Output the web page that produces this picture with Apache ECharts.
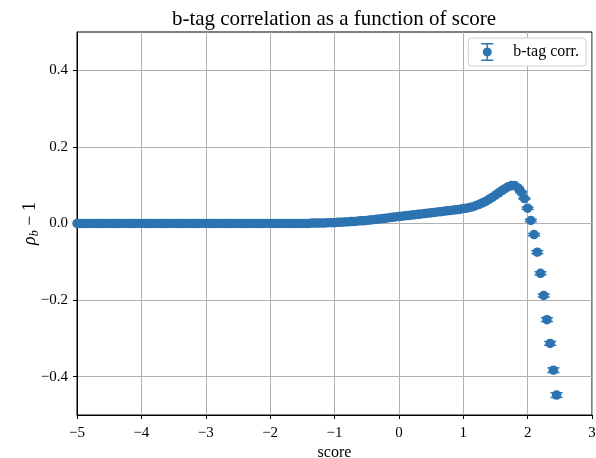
<!DOCTYPE html>
<html>
<head>
<meta charset="utf-8">
<script src="https://cdn.jsdelivr.net/npm/echarts@6/dist/echarts.min.js"></script>
<style>
  html, body { margin: 0; padding: 0; background: #fff; }
  #chart { width: 596px; height: 458px; }
</style>
</head>
<body>
<div id="chart"></div>
<script>
// Bin centres of the score
const scores = [
  -5.00, -4.95, -4.90, -4.85, -4.80, -4.75, -4.70, -4.65, -4.60, -4.55,
  -4.50, -4.45, -4.40, -4.35, -4.30, -4.25, -4.20, -4.15, -4.10, -4.05,
  -4.00, -3.95, -3.90, -3.85, -3.80, -3.75, -3.70, -3.65, -3.60, -3.55,
  -3.50, -3.45, -3.40, -3.35, -3.30, -3.25, -3.20, -3.15, -3.10, -3.05,
  -3.00, -2.95, -2.90, -2.85, -2.80, -2.75, -2.70, -2.65, -2.60, -2.55,
  -2.50, -2.45, -2.40, -2.35, -2.30, -2.25, -2.20, -2.15, -2.10, -2.05,
  -2.00, -1.95, -1.90, -1.85, -1.80, -1.75, -1.70, -1.65, -1.60, -1.55,
  -1.50, -1.45, -1.40, -1.35, -1.30, -1.25, -1.20, -1.15, -1.10, -1.05,
  -1.00, -0.95, -0.90, -0.85, -0.80, -0.75, -0.70, -0.65, -0.60, -0.55,
  -0.50, -0.45, -0.40, -0.35, -0.30, -0.25, -0.20, -0.15, -0.10, -0.05,
   0.00,  0.05,  0.10,  0.15,  0.20,  0.25,  0.30,  0.35,  0.40,  0.45,
   0.50,  0.55,  0.60,  0.65,  0.70,  0.75,  0.80,  0.85,  0.90,  0.95,
   1.00,  1.05,  1.10,  1.15,  1.20,  1.25,  1.30,  1.35,  1.40,  1.45,
   1.50,  1.55,  1.60,  1.65,  1.70,  1.75,  1.80,  1.85,  1.90,  1.95,
   2.00,  2.05,  2.10,  2.15,  2.20,  2.25,  2.30,  2.35,  2.40,  2.45
];

// rho_b - 1 in each score bin
const rhoMinusOne = [
  0, 0, 0, 0, 0, 0, 0, 0, 0, 0,
  0, 0, 0, 0, 0, 0, 0, 0, 0, 0,
  0, 0, 0, 0, 0, 0, 0, 0, 0, 0,
  0, 0, 0, 0, 0, 0, 0, 0, 0, 0,
  0, 0, 0, 0, 0, 0, 0, 0, 0, 0,
  0, 0, 0, 0, 0, 0, 0, 0, 0, 0,
  0, 0, 0, 0, 0, 0, 0, 0, 0, 0,
  0.000, 0.000, 0.000, 0.001, 0.001, 0.001, 0.001, 0.001, 0.002, 0.002,
  0.002, 0.003, 0.003, 0.004, 0.004, 0.005, 0.005, 0.006, 0.007, 0.007,
  0.008, 0.009, 0.010, 0.011, 0.012, 0.013, 0.014, 0.015, 0.016, 0.017,
  0.018, 0.019, 0.020, 0.021, 0.022, 0.023, 0.024, 0.025, 0.026, 0.027,
  0.028, 0.029, 0.030, 0.031, 0.032, 0.033, 0.034, 0.035, 0.036, 0.037,
  0.039, 0.040, 0.042, 0.044, 0.047, 0.050, 0.054, 0.058, 0.063, 0.068,
  0.074, 0.080, 0.086, 0.091, 0.096, 0.099, 0.099, 0.093, 0.082, 0.065,
  0.040, 0.008, -0.029, -0.075, -0.130, -0.188, -0.251, -0.313, -0.383, -0.448
];

// Statistical uncertainty on rho_b - 1
const rhoErr = [
  0.001, 0.001, 0.001, 0.001, 0.001, 0.001, 0.001, 0.001, 0.001, 0.001,
  0.001, 0.001, 0.001, 0.001, 0.001, 0.001, 0.001, 0.001, 0.001, 0.001,
  0.001, 0.001, 0.001, 0.001, 0.001, 0.001, 0.001, 0.001, 0.001, 0.001,
  0.001, 0.001, 0.001, 0.001, 0.001, 0.001, 0.001, 0.001, 0.001, 0.001,
  0.001, 0.001, 0.001, 0.001, 0.001, 0.001, 0.001, 0.001, 0.001, 0.001,
  0.001, 0.001, 0.001, 0.001, 0.001, 0.001, 0.001, 0.001, 0.001, 0.001,
  0.001, 0.001, 0.001, 0.001, 0.001, 0.001, 0.001, 0.001, 0.001, 0.001,
  0.001, 0.001, 0.001, 0.001, 0.001, 0.001, 0.001, 0.001, 0.001, 0.001,
  0.001, 0.001, 0.001, 0.001, 0.001, 0.001, 0.001, 0.001, 0.001, 0.001,
  0.001, 0.001, 0.001, 0.001, 0.001, 0.001, 0.001, 0.001, 0.001, 0.001,
  0.001, 0.001, 0.001, 0.001, 0.001, 0.001, 0.001, 0.001, 0.001, 0.001,
  0.001, 0.001, 0.001, 0.001, 0.001, 0.001, 0.001, 0.001, 0.001, 0.001,
  0.001, 0.001, 0.001, 0.001, 0.001, 0.001, 0.002, 0.002, 0.002, 0.002,
  0.002, 0.002, 0.002, 0.002, 0.002, 0.002, 0.002, 0.002, 0.002, 0.002,
  0.003, 0.003, 0.003, 0.004, 0.004, 0.004, 0.005, 0.005, 0.006, 0.006
];

const xTicks = [-5, -4, -3, -2, -1, 0, 1, 2, 3];
const yTicks = [-0.4, -0.2, 0.0, 0.2, 0.4];

const SERIES_NAME = 'b-tag corr.';
const BLUE = '#2c73b1';
const FONT = 'Liberation Serif';

const points = scores.map((s, i) => [s, rhoMinusOne[i], rhoErr[i]]);

const minusSign = s => String(s).replace('-', '\u2212');

// Error-bar glyph for the legend: caps, stem and marker
const errorbarIcon = 'path://M1,0H13V1.4H1Z M1,16.6H13V18H1Z M6.3,0H7.7V18H6.3Z M7,4.5A4.5,4.5 0 1,1 6.99,4.5Z';

const chart = echarts.init(document.getElementById('chart'), null, { renderer: 'canvas' });

chart.setOption({
  backgroundColor: '#fff',
  animation: false,
  title: {
    text: 'b-tag correlation as a function of score',
    left: 329, top: 4, textAlign: 'center',
    textStyle: { fontFamily: FONT, fontSize: 21, fontWeight: 'normal', color: '#000' }
  },
  legend: {
    right: 10, top: 38,
    data: [{ name: SERIES_NAME, icon: errorbarIcon, itemStyle: { color: BLUE } }],
    itemWidth: 14, itemHeight: 18,
    padding: [5, 7, 5, 13],
    backgroundColor: '#fff',
    borderColor: '#d0d0d0', borderWidth: 1, borderRadius: 3,
    textStyle: { fontFamily: FONT, fontSize: 16, color: '#000', padding: [0, 0, 0, 14] }
  },
  grid: {
    left: 77, right: 4, top: 32, bottom: 43,
    outerBoundsMode: 'none',
    containLabel: false,
    show: true, borderColor: '#000', borderWidth: 1
  },
  xAxis: {
    type: 'value', min: -5, max: 3, interval: 1,
    name: 'score', nameLocation: 'middle', nameGap: 30, nameMoveOverlap: false,
    nameTextStyle: { fontFamily: FONT, fontSize: 16, color: '#000' },
    axisLine: { show: true, onZero: false, lineStyle: { color: '#000', width: 1 } },
    axisTick: { show: true, length: 4, lineStyle: { color: '#000' } },
    axisLabel: { fontFamily: FONT, fontSize: 15, color: '#000', margin: 11, formatter: v => minusSign(v) },
    splitLine: { show: true, lineStyle: { color: '#b0b0b0', width: 1 } }
  },
  yAxis: {
    type: 'value', min: -0.5, max: 0.5,
    name: '{i|ρ}{s|b}{n| − 1}', nameLocation: 'middle', nameGap: 35, nameRotate: 90, nameMoveOverlap: false,
    nameTextStyle: {
      color: '#000',
      rich: {
        i: { fontFamily: FONT, fontSize: 18, fontStyle: 'italic', color: '#000', lineHeight: 24 },
        s: { fontFamily: FONT, fontSize: 12, fontStyle: 'italic', color: '#000', lineHeight: 24, padding: [9, 0, 0, 0] },
        n: { fontFamily: FONT, fontSize: 18, color: '#000', lineHeight: 24 }
      }
    },
    axisLine: { show: true, onZero: false, lineStyle: { color: '#000', width: 1 } },
    axisTick: { show: true, length: 4, lineStyle: { color: '#000' }, customValues: yTicks },
    axisLabel: {
      fontFamily: FONT, fontSize: 15, color: '#000', margin: 9,
      customValues: yTicks,
      formatter: v => minusSign(v.toFixed(1))
    },
    splitLine: { show: true, lineStyle: { color: '#b0b0b0', width: 1 } }
  },
  series: [
    {
      name: SERIES_NAME,
      type: 'custom',
      data: points,
      encode: { x: 0, y: 1 },
      clip: true,
      z: 2,
      renderItem: (params, api) => {
        const x = api.value(0), y = api.value(1), e = api.value(2);
        const top = api.coord([x, y + e]);
        const bot = api.coord([x, y - e]);
        const hw = 6;
        const st = { stroke: BLUE, lineWidth: 1.5 };
        return {
          type: 'group',
          children: [
            { type: 'line', shape: { x1: top[0], y1: top[1], x2: bot[0], y2: bot[1] }, style: st },
            { type: 'line', shape: { x1: top[0] - hw, y1: top[1], x2: top[0] + hw, y2: top[1] }, style: st },
            { type: 'line', shape: { x1: bot[0] - hw, y1: bot[1], x2: bot[0] + hw, y2: bot[1] }, style: st }
          ]
        };
      }
    },
    {
      name: SERIES_NAME,
      type: 'scatter',
      data: points,
      encode: { x: 0, y: 1 },
      symbol: 'circle',
      symbolSize: 9.5,
      z: 3,
      itemStyle: { color: BLUE, opacity: 1 },
      emphasis: { disabled: true }
    }
  ]
});
</script>
</body>
</html>
